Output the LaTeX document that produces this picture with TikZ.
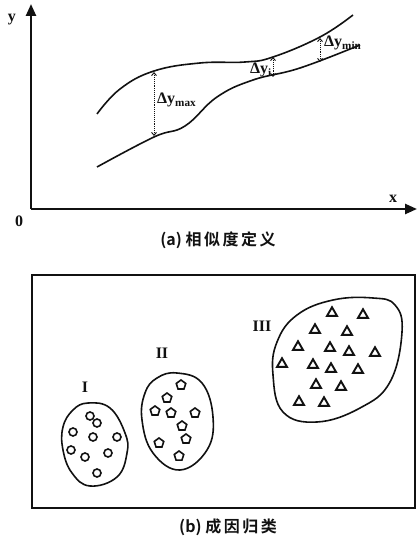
\documentclass[tikz,border=0pt]{standalone}
\usepackage{fontspec}
\setmainfont{Liberation Serif}
\newfontfamily\cjk[BoldFont={Noto Sans CJK SC Bold}]{Noto Sans CJK SC}
\usetikzlibrary{arrows.meta,shapes.geometric}
\definecolor{simInk}{HTML}{111111}
\tikzset{
  sim axis/.style={draw=simInk, line width=2.4pt, -{Triangle[length=12pt,width=10pt]}},
  sim curve/.style={draw=simInk, line width=1.6pt},
  sim gap/.style={draw=simInk, densely dotted, line width=0.9pt, {Straight Barb[length=3pt,width=5pt]}-{Straight Barb[length=3pt,width=5pt]}},
  sim blob/.style={draw=simInk, line width=1.6pt},
  sim frame/.style={draw=simInk, line width=1.2pt},
  sim circ/.style={circle, draw=simInk, line width=1.6pt, minimum size=8pt, inner sep=0pt},
  sim penta/.style={regular polygon, regular polygon sides=5, draw=simInk, line width=1.6pt, minimum size=10pt, inner sep=0pt},
  sim tri/.style={regular polygon, regular polygon sides=3, draw=simInk, line width=1.9pt, minimum size=11.5pt, inner sep=0pt},
  sim label/.style={font=\fontsize{16}{16}\selectfont\bfseries, text=simInk, inner sep=0pt},
  sim roman/.style={font=\fontsize{16}{16}\selectfont\bfseries, text=simInk, inner sep=0pt},
  sim caption/.style={font=\cjk\bfseries\fontsize{16}{16}\selectfont, text=simInk, inner sep=0pt},
}
\newcommand{\capsp}{\hspace{2.5pt}}

\begin{document}
\begin{tikzpicture}[x=1pt,y=-1pt]
  \useasboundingbox (0,0) rectangle (417,540);
  % (a) axes
  \coordinate (O) at (31,209);
  \coordinate (ytop) at (31,4);
  \coordinate (xend) at (417,209);
  \draw[sim axis] (O) -- (ytop);
  \draw[sim axis] (O) -- (xend);
  \node[sim label] (ylab) at (12,20) {y};
  \node[sim label] (xlab) at (393,199) {x};
  \node[sim label] (zero) at (19,221) {0};
  % (a) curves
  \draw[sim curve] plot[smooth, tension=0.7] coordinates {(97,114) (120,89) (154,71) (200,63) (245,62) (273,57) (320,37) (353,15)};
  \draw[sim curve] plot[smooth, tension=0.7] coordinates {(97,167) (154,137) (185,126) (217,97) (253,80) (300,68) (360,45)};
  \coordinate (gmaxT) at (154,72);
  \coordinate (gmaxB) at (154,136);
  \coordinate (giT) at (273,57);
  \coordinate (giB) at (273,77);
  \coordinate (gminT) at (320,38);
  \coordinate (gminB) at (320,62);
  \draw[sim gap] (gmaxT) -- (gmaxB);
  \draw[sim gap] (giT) -- (giB);
  \draw[sim gap] (gminT) -- (gminB);
  \node[sim label, anchor=west] (dmax) at (157,100) {Δy\textsubscript{max}};
  \node[sim label, anchor=east] (di) at (272,70) {Δy\textsubscript{i}};
  \node[sim label, anchor=west] (dmin) at (324,43) {Δy\textsubscript{min}};
  \node[sim caption] (capa) at (218,240) {(a) 相\capsp 似\capsp 度\capsp 定\capsp 义};
  % (b) frame and clusters
  \draw[sim frame] (32,275) rectangle (415,508);
  \draw[sim blob] plot[smooth cycle, tension=0.7] coordinates {(88,403) (110,408) (125,433) (127,453) (117,477) (90,486) (72,473) (63,450) (63,427) (73,410)};
  \draw[sim blob] plot[smooth cycle, tension=0.7] coordinates {(177,373) (202,383) (213,417) (207,450) (180,470) (153,453) (142,420) (145,393) (157,378)};
  \draw[sim blob] plot[smooth cycle, tension=0.7] coordinates {(373,298) (395,305) (402,332) (390,382) (360,408) (317,422) (283,412) (273,375) (277,342) (297,315) (333,300)};
  \foreach \x/\y [count=\k] in {90/416,97/423,73/432,93/437,117/437,71/450,85/457,108/453,97/473}
    \node[sim circ] (c\k) at (\x,\y) {};
  \foreach \x/\y [count=\k] in {181/385,167/398,155/411,171/413,195/413,182/426,186/439,159/443,179/456}
    \node[sim penta] (p\k) at (\x,\y) {};
  \foreach \x/\y [count=\k] in {332/313,363/315,315/330,347/332,298/347,330/348,349/352,375/353,282/364,313/365,331/369,358/370,316/385,341/387,299/402,324/403}
    \node[sim tri] (t\k) at (\x,\y) {};
  \node[sim roman] (rI) at (85,387) {I};
  \node[sim roman] (rII) at (162,353) {II};
  \node[sim roman] (rIII) at (262,326) {III};
  \node[sim caption] (capb) at (228,527) {(b) 成\capsp 因\capsp 归\capsp 类};
\end{tikzpicture}
\end{document}
